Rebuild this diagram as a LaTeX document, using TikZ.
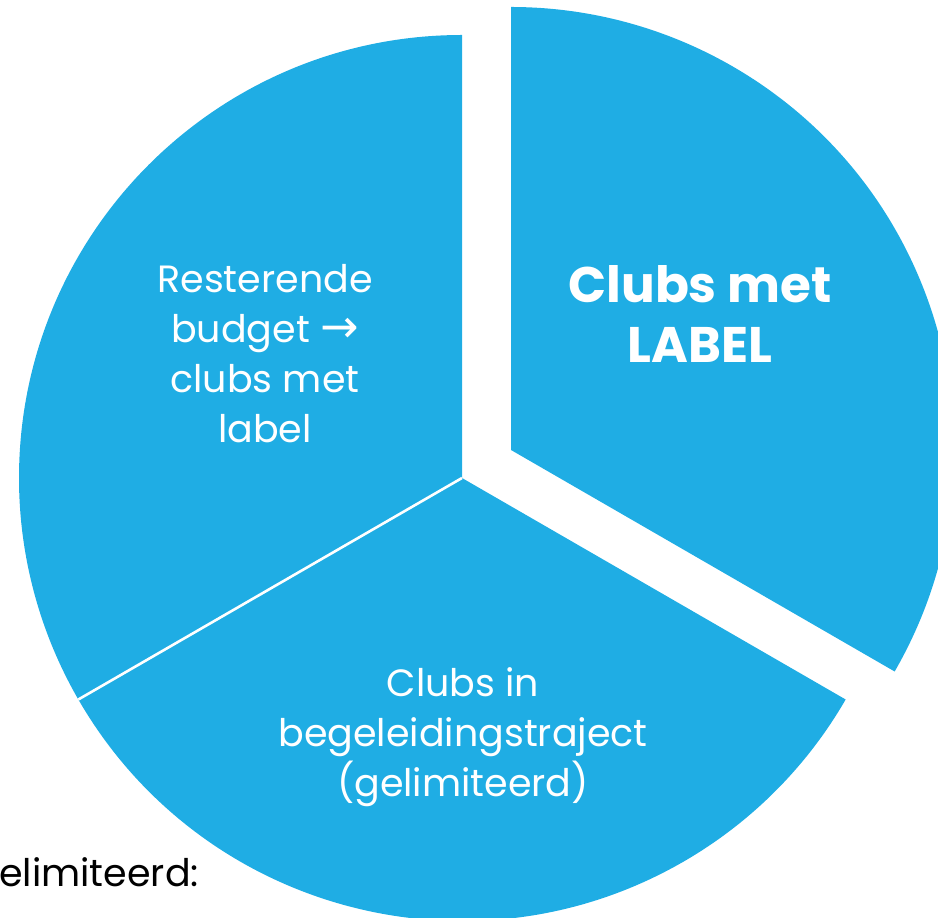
\documentclass[tikz,border=0pt]{standalone}
\usepackage{fontspec}
\usetikzlibrary{calc}
\setmainfont{Poppins}
\newfontfamily\arrowfont{DejaVu Sans}
\definecolor{pieblue}{HTML}{1FADE4}
\begin{document}
\begin{tikzpicture}[x=1pt,y=1pt,
  sector/.style={fill=pieblue, draw=none},
  sep/.style={draw=white, line width=2.6pt},
  lbl/.style={text=white, inner sep=0pt, anchor=base, font=\fontsize{38}{50}\selectfont},
  blbl/.style={text=white, inner sep=0pt, anchor=base, font=\fontsize{50}{60}\selectfont\bfseries},
  side/.style={text=black, inner sep=0pt, anchor=base west, font=\fontsize{38}{50}\selectfont}]
\useasboundingbox (0,0) rectangle (938,918);
\clip (0,0) rectangle (938,918);
\def\R{443}
\coordinate (C) at (462,440);
\coordinate (E) at (511,468);
% sectors
\fill[sector] (C) -- ++(90:\R) arc[start angle=90, end angle=210, radius=\R] -- cycle;
\fill[sector] (C) -- ++(210:\R) arc[start angle=210, end angle=330, radius=\R] -- cycle;
\fill[sector] (E) -- ++(-30:\R) arc[start angle=-30, end angle=90, radius=\R] -- cycle;
\coordinate (P) at ($(C)+(210:\R)$);
\draw[sep] (C) -- (P);
% texts
\node[lbl] (a1) at (265,625) {Resterende};
\node[lbl] (a2) at (265,575) {budget {\arrowfont\fontsize{46}{50}\selectfont →}};
\node[lbl] (a3) at (265,525) {clubs met};
\node[lbl] (a4) at (265,475) {label};
\node[blbl] (b1) at (700,615) {Clubs met};
\node[blbl] (b2) at (700,555) {LABEL};
\node[lbl] (c1) at (463,221) {Clubs in};
\node[lbl] (c2) at (463,171) {begeleidingstraject};
\node[lbl] (c3) at (463,121) {(gelimiteerd)};
\node[side] (d1) at (-1,31) {elimiteerd:};
\end{tikzpicture}
\end{document}
